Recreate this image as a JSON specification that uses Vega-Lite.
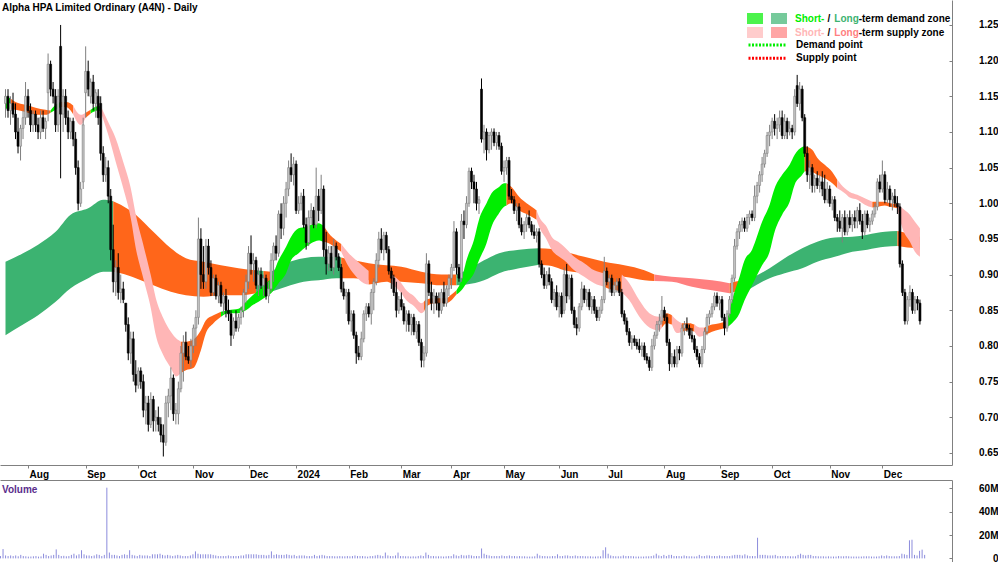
{
"$schema":"https://vega.github.io/schema/vega-lite/v6.json",
"padding":0,
"background":"#ffffff",
"spacing":0,
"config":{"view":{"stroke":null},"font":"Liberation Sans","axis":{"labelFont":"Liberation Sans","labelFontWeight":"bold","labelFontSize":10,"labelColor":"#000000","domainColor":"#808080","tickColor":"#808080","grid":false,"title":null},"legend":{"labelFont":"Liberation Sans","labelFontWeight":"bold","labelFontSize":10,"labelColor":"#000000","padding":0,"offset":0}},
"datasets":{
"px":[
{"i":0,"o":1.14,"h":1.16,"l":1.12,"c":1.15,"v":2},{"i":1,"o":1.15,"h":1.16,"l":1.12,"c":1.13,"v":8},{"i":2,"o":1.13,"h":1.15,"l":1.11,"c":1.14,"v":2.5},{"i":3,"o":1.14,"h":1.155,"l":1.12,"c":1.125,"v":2},{"i":4,"o":1.125,"h":1.14,"l":1.09,"c":1.1,"v":2.5},{"i":5,"o":1.1,"h":1.12,"l":1.07,"c":1.08,"v":2},{"i":6,"o":1.08,"h":1.11,"l":1.06,"c":1.105,"v":2.5},{"i":7,"o":1.105,"h":1.13,"l":1.09,"c":1.12,"v":1.8},{"i":8,"o":1.12,"h":1.17,"l":1.11,"c":1.15,"v":3},{"i":9,"o":1.15,"h":1.16,"l":1.12,"c":1.13,"v":2},
{"i":10,"o":1.13,"h":1.14,"l":1.1,"c":1.11,"v":1.8},{"i":11,"o":1.11,"h":1.13,"l":1.1,"c":1.125,"v":1.5},{"i":12,"o":1.125,"h":1.13,"l":1.1,"c":1.11,"v":1.6},{"i":13,"o":1.11,"h":1.12,"l":1.09,"c":1.1,"v":1.8},{"i":14,"o":1.1,"h":1.13,"l":1.09,"c":1.12,"v":2},{"i":15,"o":1.12,"h":1.13,"l":1.1,"c":1.105,"v":1.5},{"i":16,"o":1.105,"h":1.12,"l":1.09,"c":1.115,"v":1.7},{"i":17,"o":1.155,"h":1.21,"l":1.115,"c":1.195,"v":4},{"i":18,"o":1.195,"h":1.2,"l":1.15,"c":1.16,"v":3},{"i":19,"o":1.16,"h":1.17,"l":1.14,"c":1.15,"v":2},
{"i":20,"o":1.15,"h":1.16,"l":1.1,"c":1.11,"v":2.5},{"i":21,"o":1.11,"h":1.16,"l":1.1,"c":1.15,"v":3},{"i":22,"o":1.22,"h":1.25,"l":1.035,"c":1.125,"v":7.7},{"i":23,"o":1.125,"h":1.16,"l":1.1,"c":1.15,"v":3},{"i":24,"o":1.15,"h":1.16,"l":1.11,"c":1.12,"v":2},{"i":25,"o":1.12,"h":1.13,"l":1.09,"c":1.1,"v":2.2},{"i":26,"o":1.1,"h":1.12,"l":1.09,"c":1.115,"v":1.8},{"i":27,"o":1.115,"h":1.12,"l":1.08,"c":1.09,"v":2},{"i":28,"o":1.09,"h":1.1,"l":1.04,"c":1.05,"v":3},{"i":29,"o":1.05,"h":1.06,"l":0.99,"c":1.0,"v":4},
{"i":30,"o":1.0,"h":1.03,"l":0.995,"c":1.02,"v":2.5},{"i":31,"o":1.03,"h":1.12,"l":1.02,"c":1.11,"v":3.5},{"i":32,"o":1.155,"h":1.22,"l":1.12,"c":1.185,"v":7},{"i":33,"o":1.185,"h":1.2,"l":1.15,"c":1.16,"v":3.5},{"i":34,"o":1.15,"h":1.175,"l":1.14,"c":1.17,"v":2.5},{"i":35,"o":1.17,"h":1.18,"l":1.13,"c":1.14,"v":2.5},{"i":36,"o":1.14,"h":1.16,"l":1.12,"c":1.155,"v":2},{"i":37,"o":1.15,"h":1.16,"l":1.11,"c":1.12,"v":2.5},{"i":38,"o":1.14,"h":1.15,"l":1.06,"c":1.07,"v":3.5},{"i":39,"o":1.07,"h":1.08,"l":1.03,"c":1.04,"v":3},
{"i":40,"o":1.04,"h":1.065,"l":1.03,"c":1.05,"v":2},{"i":41,"o":1.05,"h":1.06,"l":1.0,"c":1.01,"v":3},{"i":42,"o":1.01,"h":1.02,"l":0.92,"c":0.935,"v":60.6},{"i":43,"o":0.935,"h":0.97,"l":0.875,"c":0.89,"v":5},{"i":44,"o":0.89,"h":0.92,"l":0.87,"c":0.91,"v":3},{"i":45,"o":0.91,"h":0.93,"l":0.865,"c":0.875,"v":3},{"i":46,"o":0.875,"h":0.9,"l":0.86,"c":0.88,"v":2.5},{"i":47,"o":0.88,"h":0.89,"l":0.86,"c":0.865,"v":2},{"i":48,"o":0.86,"h":0.86,"l":0.82,"c":0.83,"v":3},{"i":49,"o":0.83,"h":0.84,"l":0.78,"c":0.79,"v":3.5},
{"i":50,"o":0.79,"h":0.82,"l":0.775,"c":0.81,"v":3},{"i":51,"o":0.81,"h":0.82,"l":0.75,"c":0.76,"v":7},{"i":52,"o":0.76,"h":0.78,"l":0.735,"c":0.745,"v":3},{"i":53,"o":0.745,"h":0.77,"l":0.74,"c":0.765,"v":2.5},{"i":54,"o":0.765,"h":0.77,"l":0.74,"c":0.75,"v":2},{"i":55,"o":0.75,"h":0.76,"l":0.7,"c":0.71,"v":3},{"i":56,"o":0.71,"h":0.73,"l":0.69,"c":0.72,"v":2.5},{"i":57,"o":0.72,"h":0.73,"l":0.68,"c":0.69,"v":2.5},{"i":58,"o":0.69,"h":0.735,"l":0.685,"c":0.725,"v":2.5},{"i":59,"o":0.725,"h":0.73,"l":0.68,"c":0.695,"v":2},
{"i":60,"o":0.695,"h":0.71,"l":0.68,"c":0.7,"v":3.5},{"i":61,"o":0.7,"h":0.715,"l":0.68,"c":0.69,"v":3.5},{"i":62,"o":0.69,"h":0.7,"l":0.665,"c":0.675,"v":3.5},{"i":63,"o":0.675,"h":0.69,"l":0.645,"c":0.665,"v":4},{"i":64,"o":0.665,"h":0.73,"l":0.66,"c":0.72,"v":3},{"i":65,"o":0.72,"h":0.74,"l":0.7,"c":0.73,"v":2.5},{"i":66,"o":0.73,"h":0.77,"l":0.71,"c":0.755,"v":3},{"i":67,"o":0.755,"h":0.76,"l":0.695,"c":0.705,"v":2.5},{"i":68,"o":0.705,"h":0.72,"l":0.69,"c":0.71,"v":2},{"i":69,"o":0.705,"h":0.75,"l":0.69,"c":0.74,"v":2.5},
{"i":70,"o":0.74,"h":0.8,"l":0.735,"c":0.79,"v":3},{"i":71,"o":0.79,"h":0.815,"l":0.75,"c":0.805,"v":2.5},{"i":72,"o":0.805,"h":0.82,"l":0.78,"c":0.785,"v":2},{"i":73,"o":0.785,"h":0.8,"l":0.775,"c":0.78,"v":2},{"i":74,"o":0.78,"h":0.81,"l":0.77,"c":0.8,"v":2},{"i":75,"o":0.8,"h":0.83,"l":0.79,"c":0.825,"v":2.5},{"i":76,"o":0.825,"h":0.85,"l":0.8,"c":0.84,"v":3.5},{"i":77,"o":0.84,"h":0.98,"l":0.83,"c":0.95,"v":6},{"i":78,"o":0.95,"h":0.965,"l":0.88,"c":0.9,"v":4},{"i":79,"o":0.9,"h":0.94,"l":0.88,"c":0.89,"v":3.5},
{"i":80,"o":0.89,"h":0.95,"l":0.88,"c":0.94,"v":3.5},{"i":81,"o":0.94,"h":0.95,"l":0.9,"c":0.91,"v":3.5},{"i":82,"o":0.91,"h":0.92,"l":0.87,"c":0.875,"v":3.5},{"i":83,"o":0.875,"h":0.9,"l":0.87,"c":0.895,"v":3.5},{"i":84,"o":0.895,"h":0.9,"l":0.865,"c":0.87,"v":3},{"i":85,"o":0.87,"h":0.89,"l":0.86,"c":0.885,"v":2.5},{"i":86,"o":0.885,"h":0.89,"l":0.855,"c":0.86,"v":2},{"i":87,"o":0.86,"h":0.875,"l":0.845,"c":0.87,"v":2},{"i":88,"o":0.87,"h":0.88,"l":0.84,"c":0.85,"v":2},{"i":89,"o":0.85,"h":0.865,"l":0.835,"c":0.845,"v":2},
{"i":90,"o":0.845,"h":0.85,"l":0.8,"c":0.815,"v":2.5},{"i":91,"o":0.815,"h":0.84,"l":0.81,"c":0.835,"v":2},{"i":92,"o":0.835,"h":0.85,"l":0.82,"c":0.825,"v":2},{"i":93,"o":0.825,"h":0.845,"l":0.82,"c":0.84,"v":2},{"i":94,"o":0.84,"h":0.855,"l":0.83,"c":0.85,"v":2},{"i":95,"o":0.85,"h":0.88,"l":0.84,"c":0.875,"v":2.5},{"i":96,"o":0.875,"h":0.9,"l":0.86,"c":0.89,"v":2.5},{"i":97,"o":0.89,"h":0.94,"l":0.88,"c":0.93,"v":3.5},{"i":98,"o":0.93,"h":0.955,"l":0.9,"c":0.915,"v":3.5},{"i":99,"o":0.915,"h":0.93,"l":0.89,"c":0.92,"v":3.5},
{"i":100,"o":0.92,"h":0.925,"l":0.88,"c":0.885,"v":3.5},{"i":101,"o":0.885,"h":0.91,"l":0.87,"c":0.9,"v":3.5},{"i":102,"o":0.9,"h":0.91,"l":0.88,"c":0.885,"v":3},{"i":103,"o":0.885,"h":0.9,"l":0.87,"c":0.895,"v":3},{"i":104,"o":0.895,"h":0.9,"l":0.865,"c":0.87,"v":3},{"i":105,"o":0.87,"h":0.89,"l":0.86,"c":0.88,"v":2.5},{"i":106,"o":0.88,"h":0.93,"l":0.875,"c":0.92,"v":3},{"i":107,"o":0.92,"h":0.945,"l":0.89,"c":0.94,"v":6},{"i":108,"o":0.94,"h":0.955,"l":0.92,"c":0.93,"v":3},{"i":109,"o":0.93,"h":0.99,"l":0.925,"c":0.985,"v":3.5},
{"i":110,"o":0.985,"h":1.0,"l":0.95,"c":0.965,"v":3},{"i":111,"o":0.965,"h":1.01,"l":0.955,"c":1.0,"v":3},{"i":112,"o":1.0,"h":1.03,"l":0.98,"c":1.02,"v":3},{"i":113,"o":1.02,"h":1.06,"l":1.01,"c":1.05,"v":3.5},{"i":114,"o":1.05,"h":1.07,"l":1.03,"c":1.04,"v":3},{"i":115,"o":1.04,"h":1.065,"l":1.025,"c":1.055,"v":2.5},{"i":116,"o":1.055,"h":1.06,"l":0.985,"c":0.99,"v":3},{"i":117,"o":0.99,"h":1.01,"l":0.985,"c":1.0,"v":2},{"i":118,"o":1.0,"h":1.015,"l":0.99,"c":1.01,"v":2.5},{"i":119,"o":1.01,"h":1.02,"l":0.965,"c":0.97,"v":2.5},
{"i":120,"o":0.97,"h":0.98,"l":0.935,"c":0.945,"v":2.5},{"i":121,"o":0.945,"h":0.99,"l":0.94,"c":0.98,"v":2},{"i":122,"o":0.98,"h":1.0,"l":0.97,"c":0.99,"v":2},{"i":123,"o":0.99,"h":0.995,"l":0.965,"c":0.97,"v":2},{"i":124,"o":0.97,"h":1.05,"l":0.965,"c":1.01,"v":3},{"i":125,"o":1.01,"h":1.02,"l":0.975,"c":0.99,"v":2},{"i":126,"o":0.99,"h":1.04,"l":0.985,"c":1.02,"v":2.5},{"i":127,"o":1.02,"h":1.025,"l":0.925,"c":0.935,"v":3},{"i":128,"o":0.935,"h":0.96,"l":0.9,"c":0.915,"v":2.5},{"i":129,"o":0.915,"h":0.94,"l":0.905,"c":0.93,"v":2},
{"i":130,"o":0.93,"h":0.94,"l":0.905,"c":0.91,"v":2},{"i":131,"o":0.91,"h":0.95,"l":0.9,"c":0.94,"v":2},{"i":132,"o":0.94,"h":0.945,"l":0.92,"c":0.925,"v":1.8},{"i":133,"o":0.925,"h":0.93,"l":0.905,"c":0.91,"v":1.8},{"i":134,"o":0.91,"h":0.915,"l":0.875,"c":0.88,"v":2},{"i":135,"o":0.88,"h":0.89,"l":0.865,"c":0.87,"v":1.8},{"i":136,"o":0.87,"h":0.88,"l":0.845,"c":0.875,"v":1.8},{"i":137,"o":0.875,"h":0.88,"l":0.83,"c":0.835,"v":2},{"i":138,"o":0.835,"h":0.85,"l":0.82,"c":0.845,"v":1.8},{"i":139,"o":0.845,"h":0.85,"l":0.81,"c":0.815,"v":2},
{"i":140,"o":0.815,"h":0.82,"l":0.775,"c":0.79,"v":2.5},{"i":141,"o":0.79,"h":0.8,"l":0.78,"c":0.785,"v":2},{"i":142,"o":0.785,"h":0.82,"l":0.78,"c":0.81,"v":2},{"i":143,"o":0.81,"h":0.85,"l":0.805,"c":0.845,"v":2},{"i":144,"o":0.845,"h":0.86,"l":0.835,"c":0.855,"v":1.8},{"i":145,"o":0.855,"h":0.86,"l":0.84,"c":0.845,"v":1.5},{"i":146,"o":0.845,"h":0.88,"l":0.83,"c":0.875,"v":2},{"i":147,"o":0.875,"h":0.895,"l":0.85,"c":0.89,"v":2},{"i":148,"o":0.89,"h":0.93,"l":0.885,"c":0.92,"v":2.5},{"i":149,"o":0.92,"h":0.96,"l":0.91,"c":0.95,"v":3},
{"i":150,"o":0.95,"h":0.965,"l":0.93,"c":0.935,"v":2.5},{"i":151,"o":0.935,"h":0.96,"l":0.92,"c":0.955,"v":2},{"i":152,"o":0.955,"h":0.96,"l":0.93,"c":0.935,"v":5},{"i":153,"o":0.935,"h":0.94,"l":0.9,"c":0.905,"v":2.5},{"i":154,"o":0.905,"h":0.91,"l":0.88,"c":0.895,"v":2},{"i":155,"o":0.895,"h":0.9,"l":0.87,"c":0.875,"v":2},{"i":156,"o":0.875,"h":0.89,"l":0.84,"c":0.85,"v":2.5},{"i":157,"o":0.85,"h":0.87,"l":0.845,"c":0.865,"v":5},{"i":158,"o":0.865,"h":0.875,"l":0.85,"c":0.855,"v":2},{"i":159,"o":0.855,"h":0.86,"l":0.83,"c":0.835,"v":2},
{"i":160,"o":0.835,"h":0.85,"l":0.82,"c":0.845,"v":1.8},{"i":161,"o":0.845,"h":0.85,"l":0.82,"c":0.83,"v":1.8},{"i":162,"o":0.83,"h":0.845,"l":0.815,"c":0.84,"v":1.6},{"i":163,"o":0.84,"h":0.845,"l":0.815,"c":0.82,"v":1.8},{"i":164,"o":0.82,"h":0.835,"l":0.81,"c":0.83,"v":1.6},{"i":165,"o":0.83,"h":0.835,"l":0.8,"c":0.805,"v":2},{"i":166,"o":0.805,"h":0.81,"l":0.77,"c":0.78,"v":2.5},{"i":167,"o":0.78,"h":0.8,"l":0.77,"c":0.79,"v":2},{"i":168,"o":0.79,"h":0.93,"l":0.785,"c":0.915,"v":5},{"i":169,"o":0.915,"h":0.92,"l":0.87,"c":0.875,"v":3},
{"i":170,"o":0.875,"h":0.89,"l":0.85,"c":0.86,"v":2},{"i":171,"o":0.86,"h":0.88,"l":0.845,"c":0.87,"v":2},{"i":172,"o":0.87,"h":0.875,"l":0.85,"c":0.86,"v":1.8},{"i":173,"o":0.86,"h":0.875,"l":0.84,"c":0.85,"v":1.8},{"i":174,"o":0.85,"h":0.88,"l":0.845,"c":0.875,"v":1.8},{"i":175,"o":0.875,"h":0.89,"l":0.855,"c":0.86,"v":1.6},{"i":176,"o":0.86,"h":0.885,"l":0.855,"c":0.88,"v":1.8},{"i":177,"o":0.88,"h":0.9,"l":0.87,"c":0.895,"v":2},{"i":178,"o":0.895,"h":0.915,"l":0.88,"c":0.91,"v":2},{"i":179,"o":0.91,"h":0.975,"l":0.905,"c":0.96,"v":3.5},
{"i":180,"o":0.96,"h":0.965,"l":0.9,"c":0.91,"v":2.5},{"i":181,"o":0.91,"h":0.915,"l":0.89,"c":0.895,"v":2},{"i":182,"o":0.895,"h":0.985,"l":0.89,"c":0.975,"v":3},{"i":183,"o":0.975,"h":0.99,"l":0.95,"c":0.97,"v":2.5},{"i":184,"o":0.97,"h":1.01,"l":0.965,"c":1.0,"v":2.5},{"i":185,"o":1.0,"h":1.05,"l":0.995,"c":1.045,"v":3},{"i":186,"o":1.045,"h":1.05,"l":1.02,"c":1.03,"v":2.5},{"i":187,"o":1.03,"h":1.04,"l":1.0,"c":1.02,"v":2},{"i":188,"o":1.02,"h":1.03,"l":0.99,"c":1.0,"v":2},{"i":189,"o":1.0,"h":1.01,"l":0.985,"c":1.005,"v":2},
{"i":190,"o":1.16,"h":1.175,"l":1.085,"c":1.09,"v":8.5},{"i":191,"o":1.09,"h":1.11,"l":1.07,"c":1.1,"v":4},{"i":192,"o":1.1,"h":1.105,"l":1.06,"c":1.075,"v":3},{"i":193,"o":1.075,"h":1.1,"l":1.07,"c":1.095,"v":2.5},{"i":194,"o":1.095,"h":1.105,"l":1.075,"c":1.1,"v":2},{"i":195,"o":1.1,"h":1.105,"l":1.08,"c":1.085,"v":2},{"i":196,"o":1.085,"h":1.1,"l":1.075,"c":1.095,"v":2},{"i":197,"o":1.095,"h":1.1,"l":1.075,"c":1.08,"v":2},{"i":198,"o":1.08,"h":1.085,"l":1.04,"c":1.045,"v":2.5},{"i":199,"o":1.045,"h":1.06,"l":1.03,"c":1.05,"v":2},
{"i":200,"o":1.05,"h":1.065,"l":1.04,"c":1.06,"v":2},{"i":201,"o":1.06,"h":1.065,"l":1.005,"c":1.01,"v":2.5},{"i":202,"o":1.01,"h":1.02,"l":1.0,"c":1.005,"v":2},{"i":203,"o":1.005,"h":1.01,"l":0.985,"c":0.99,"v":2},{"i":204,"o":0.99,"h":1.0,"l":0.975,"c":0.995,"v":1.8},{"i":205,"o":0.995,"h":1.0,"l":0.965,"c":0.97,"v":2},{"i":206,"o":0.97,"h":0.98,"l":0.955,"c":0.96,"v":1.8},{"i":207,"o":0.96,"h":0.975,"l":0.95,"c":0.97,"v":1.8},{"i":208,"o":0.97,"h":0.985,"l":0.96,"c":0.98,"v":1.6},{"i":209,"o":0.98,"h":0.99,"l":0.965,"c":0.97,"v":1.6},
{"i":210,"o":0.97,"h":0.975,"l":0.955,"c":0.96,"v":1.6},{"i":211,"o":0.96,"h":0.97,"l":0.95,"c":0.955,"v":1.8},{"i":212,"o":0.955,"h":0.965,"l":0.945,"c":0.96,"v":4},{"i":213,"o":0.96,"h":0.965,"l":0.91,"c":0.915,"v":2.5},{"i":214,"o":0.915,"h":0.92,"l":0.895,"c":0.9,"v":2},{"i":215,"o":0.9,"h":0.91,"l":0.88,"c":0.885,"v":2},{"i":216,"o":0.885,"h":0.905,"l":0.88,"c":0.9,"v":1.8},{"i":217,"o":0.9,"h":0.91,"l":0.885,"c":0.89,"v":1.8},{"i":218,"o":0.89,"h":0.895,"l":0.86,"c":0.865,"v":2},{"i":219,"o":0.865,"h":0.88,"l":0.855,"c":0.875,"v":2},
{"i":220,"o":0.875,"h":0.885,"l":0.85,"c":0.855,"v":3.5},{"i":221,"o":0.855,"h":0.875,"l":0.84,"c":0.87,"v":2},{"i":222,"o":0.87,"h":0.875,"l":0.84,"c":0.845,"v":2},{"i":223,"o":0.85,"h":0.91,"l":0.845,"c":0.9,"v":2.5},{"i":224,"o":0.9,"h":0.915,"l":0.86,"c":0.87,"v":2.5},{"i":225,"o":0.87,"h":0.9,"l":0.865,"c":0.895,"v":2},{"i":226,"o":0.895,"h":0.9,"l":0.845,"c":0.85,"v":2},{"i":227,"o":0.85,"h":0.855,"l":0.825,"c":0.83,"v":2.5},{"i":228,"o":0.83,"h":0.84,"l":0.815,"c":0.825,"v":2},{"i":229,"o":0.825,"h":0.86,"l":0.82,"c":0.855,"v":2},
{"i":230,"o":0.855,"h":0.89,"l":0.85,"c":0.88,"v":2},{"i":231,"o":0.88,"h":0.885,"l":0.86,"c":0.865,"v":1.8},{"i":232,"o":0.865,"h":0.88,"l":0.855,"c":0.875,"v":1.8},{"i":233,"o":0.875,"h":0.88,"l":0.85,"c":0.855,"v":1.8},{"i":234,"o":0.855,"h":0.87,"l":0.845,"c":0.865,"v":1.6},{"i":235,"o":0.865,"h":0.87,"l":0.845,"c":0.85,"v":1.6},{"i":236,"o":0.85,"h":0.855,"l":0.835,"c":0.84,"v":1.8},{"i":237,"o":0.84,"h":0.855,"l":0.835,"c":0.85,"v":1.8},{"i":238,"o":0.85,"h":0.87,"l":0.845,"c":0.865,"v":7},{"i":239,"o":0.865,"h":0.925,"l":0.86,"c":0.905,"v":9.5},
{"i":240,"o":0.905,"h":0.91,"l":0.885,"c":0.89,"v":4},{"i":241,"o":0.89,"h":0.9,"l":0.875,"c":0.895,"v":2.5},{"i":242,"o":0.895,"h":0.9,"l":0.87,"c":0.875,"v":2},{"i":243,"o":0.875,"h":0.89,"l":0.87,"c":0.885,"v":1.8},{"i":244,"o":0.885,"h":0.895,"l":0.875,"c":0.89,"v":1.8},{"i":245,"o":0.89,"h":0.895,"l":0.87,"c":0.875,"v":1.8},{"i":246,"o":0.875,"h":0.88,"l":0.84,"c":0.845,"v":2.5},{"i":247,"o":0.845,"h":0.85,"l":0.83,"c":0.835,"v":2},{"i":248,"o":0.835,"h":0.84,"l":0.815,"c":0.82,"v":2},{"i":249,"o":0.82,"h":0.825,"l":0.8,"c":0.805,"v":2},
{"i":250,"o":0.805,"h":0.815,"l":0.795,"c":0.81,"v":1.8},{"i":251,"o":0.81,"h":0.815,"l":0.8,"c":0.805,"v":1.6},{"i":252,"o":0.805,"h":0.81,"l":0.795,"c":0.8,"v":1.6},{"i":253,"o":0.8,"h":0.81,"l":0.79,"c":0.795,"v":1.6},{"i":254,"o":0.795,"h":0.805,"l":0.785,"c":0.8,"v":1.6},{"i":255,"o":0.8,"h":0.805,"l":0.78,"c":0.785,"v":1.8},{"i":256,"o":0.785,"h":0.79,"l":0.775,"c":0.78,"v":1.8},{"i":257,"o":0.78,"h":0.785,"l":0.765,"c":0.77,"v":2},{"i":258,"o":0.77,"h":0.81,"l":0.765,"c":0.8,"v":2.5},{"i":259,"o":0.8,"h":0.82,"l":0.795,"c":0.815,"v":4},
{"i":260,"o":0.815,"h":0.835,"l":0.81,"c":0.83,"v":2.5},{"i":261,"o":0.83,"h":0.845,"l":0.82,"c":0.835,"v":2},{"i":262,"o":0.835,"h":0.87,"l":0.83,"c":0.85,"v":3},{"i":263,"o":0.85,"h":0.855,"l":0.835,"c":0.84,"v":2},{"i":264,"o":0.84,"h":0.845,"l":0.8,"c":0.805,"v":3},{"i":265,"o":0.805,"h":0.81,"l":0.765,"c":0.775,"v":3},{"i":266,"o":0.775,"h":0.79,"l":0.77,"c":0.785,"v":2},{"i":267,"o":0.785,"h":0.795,"l":0.77,"c":0.775,"v":2},{"i":268,"o":0.775,"h":0.8,"l":0.77,"c":0.795,"v":2},{"i":269,"o":0.795,"h":0.8,"l":0.78,"c":0.79,"v":1.8},
{"i":270,"o":0.79,"h":0.83,"l":0.785,"c":0.825,"v":2.5},{"i":271,"o":0.825,"h":0.835,"l":0.815,"c":0.83,"v":2},{"i":272,"o":0.83,"h":0.84,"l":0.82,"c":0.825,"v":1.8},{"i":273,"o":0.825,"h":0.83,"l":0.81,"c":0.815,"v":1.8},{"i":274,"o":0.815,"h":0.825,"l":0.805,"c":0.81,"v":1.6},{"i":275,"o":0.81,"h":0.815,"l":0.79,"c":0.795,"v":1.8},{"i":276,"o":0.795,"h":0.8,"l":0.78,"c":0.785,"v":3},{"i":277,"o":0.785,"h":0.79,"l":0.77,"c":0.775,"v":2},{"i":278,"o":0.775,"h":0.8,"l":0.77,"c":0.795,"v":2},{"i":279,"o":0.795,"h":0.825,"l":0.79,"c":0.82,"v":2.5},
{"i":280,"o":0.82,"h":0.845,"l":0.815,"c":0.84,"v":2.5},{"i":281,"o":0.84,"h":0.85,"l":0.83,"c":0.845,"v":2},{"i":282,"o":0.845,"h":0.86,"l":0.84,"c":0.855,"v":2},{"i":283,"o":0.855,"h":0.875,"l":0.85,"c":0.87,"v":2},{"i":284,"o":0.87,"h":0.875,"l":0.855,"c":0.86,"v":2.5},{"i":285,"o":0.86,"h":0.87,"l":0.85,"c":0.865,"v":2},{"i":286,"o":0.865,"h":0.87,"l":0.835,"c":0.84,"v":2},{"i":287,"o":0.84,"h":0.845,"l":0.815,"c":0.825,"v":2},{"i":288,"o":0.825,"h":0.85,"l":0.82,"c":0.845,"v":2},{"i":289,"o":0.845,"h":0.87,"l":0.84,"c":0.865,"v":2.5},
{"i":290,"o":0.865,"h":0.9,"l":0.86,"c":0.895,"v":3},{"i":291,"o":0.895,"h":0.95,"l":0.89,"c":0.94,"v":3},{"i":292,"o":0.94,"h":0.965,"l":0.935,"c":0.96,"v":3},{"i":293,"o":0.96,"h":0.975,"l":0.95,"c":0.97,"v":2.5},{"i":294,"o":0.97,"h":0.98,"l":0.96,"c":0.975,"v":3.5},{"i":295,"o":0.975,"h":0.98,"l":0.96,"c":0.965,"v":2.5},{"i":296,"o":0.965,"h":0.985,"l":0.96,"c":0.98,"v":2},{"i":297,"o":0.98,"h":0.99,"l":0.97,"c":0.985,"v":2},{"i":298,"o":0.985,"h":0.99,"l":0.975,"c":0.98,"v":2},{"i":299,"o":0.98,"h":1.025,"l":0.975,"c":1.01,"v":17.7},
{"i":300,"o":1.01,"h":1.03,"l":1.0,"c":1.025,"v":3},{"i":301,"o":1.025,"h":1.045,"l":1.015,"c":1.04,"v":3},{"i":302,"o":1.04,"h":1.065,"l":1.03,"c":1.055,"v":3},{"i":303,"o":1.055,"h":1.075,"l":1.05,"c":1.07,"v":2.5},{"i":304,"o":1.07,"h":1.1,"l":1.065,"c":1.095,"v":2.5},{"i":305,"o":1.095,"h":1.11,"l":1.08,"c":1.1,"v":2.5},{"i":306,"o":1.1,"h":1.12,"l":1.09,"c":1.115,"v":3},{"i":307,"o":1.115,"h":1.125,"l":1.095,"c":1.105,"v":2},{"i":308,"o":1.105,"h":1.12,"l":1.09,"c":1.11,"v":2},{"i":309,"o":1.11,"h":1.13,"l":1.1,"c":1.12,"v":2},
{"i":310,"o":1.12,"h":1.13,"l":1.09,"c":1.095,"v":2},{"i":311,"o":1.095,"h":1.125,"l":1.09,"c":1.115,"v":2},{"i":312,"o":1.115,"h":1.12,"l":1.09,"c":1.1,"v":1.8},{"i":313,"o":1.1,"h":1.115,"l":1.095,"c":1.105,"v":1.8},{"i":314,"o":1.105,"h":1.11,"l":1.09,"c":1.1,"v":1.8},{"i":315,"o":1.1,"h":1.16,"l":1.095,"c":1.15,"v":3},{"i":316,"o":1.165,"h":1.18,"l":1.135,"c":1.14,"v":4},{"i":317,"o":1.14,"h":1.17,"l":1.13,"c":1.16,"v":3},{"i":318,"o":1.16,"h":1.165,"l":1.115,"c":1.12,"v":2.5},{"i":319,"o":1.12,"h":1.125,"l":1.065,"c":1.07,"v":3},
{"i":320,"o":1.07,"h":1.08,"l":1.03,"c":1.04,"v":3},{"i":321,"o":1.04,"h":1.06,"l":1.02,"c":1.05,"v":2},{"i":322,"o":1.05,"h":1.055,"l":1.015,"c":1.025,"v":2},{"i":323,"o":1.025,"h":1.04,"l":1.015,"c":1.035,"v":1.8},{"i":324,"o":1.035,"h":1.045,"l":1.02,"c":1.025,"v":1.8},{"i":325,"o":1.025,"h":1.04,"l":1.015,"c":1.03,"v":1.8},{"i":326,"o":1.03,"h":1.045,"l":1.01,"c":1.02,"v":1.6},{"i":327,"o":1.02,"h":1.04,"l":1.0,"c":1.005,"v":1.8},{"i":328,"o":1.005,"h":1.03,"l":1.0,"c":1.02,"v":1.6},{"i":329,"o":1.02,"h":1.025,"l":0.995,"c":1.0,"v":1.6},
{"i":330,"o":1.0,"h":1.01,"l":0.99,"c":1.005,"v":1.6},{"i":331,"o":1.005,"h":1.01,"l":0.975,"c":0.98,"v":2},{"i":332,"o":0.98,"h":0.985,"l":0.96,"c":0.975,"v":1.8},{"i":333,"o":0.975,"h":0.99,"l":0.96,"c":0.965,"v":1.8},{"i":334,"o":0.965,"h":0.985,"l":0.945,"c":0.98,"v":2},{"i":335,"o":0.98,"h":0.99,"l":0.955,"c":0.96,"v":1.8},{"i":336,"o":0.96,"h":0.985,"l":0.955,"c":0.98,"v":1.6},{"i":337,"o":0.98,"h":0.99,"l":0.965,"c":0.97,"v":1.6},{"i":338,"o":0.97,"h":0.985,"l":0.96,"c":0.98,"v":1.6},{"i":339,"o":0.98,"h":0.99,"l":0.965,"c":0.975,"v":1.6},
{"i":340,"o":0.975,"h":0.995,"l":0.965,"c":0.99,"v":1.6},{"i":341,"o":0.99,"h":1.0,"l":0.97,"c":0.975,"v":1.8},{"i":342,"o":0.975,"h":0.985,"l":0.95,"c":0.96,"v":1.8},{"i":343,"o":0.96,"h":0.99,"l":0.955,"c":0.985,"v":1.8},{"i":344,"o":0.985,"h":0.99,"l":0.965,"c":0.97,"v":1.6},{"i":345,"o":0.97,"h":0.98,"l":0.96,"c":0.975,"v":1.6},{"i":346,"o":0.975,"h":0.99,"l":0.97,"c":0.985,"v":1.6},{"i":347,"o":0.985,"h":1.0,"l":0.98,"c":0.995,"v":1.8},{"i":348,"o":0.995,"h":1.035,"l":0.99,"c":1.03,"v":2.5},{"i":349,"o":1.03,"h":1.04,"l":1.015,"c":1.02,"v":2},
{"i":350,"o":1.02,"h":1.06,"l":1.015,"c":1.04,"v":2.5},{"i":351,"o":1.04,"h":1.045,"l":1.0,"c":1.005,"v":2},{"i":352,"o":1.005,"h":1.03,"l":1.0,"c":1.02,"v":1.8},{"i":353,"o":1.02,"h":1.025,"l":0.995,"c":1.005,"v":1.8},{"i":354,"o":1.005,"h":1.015,"l":0.99,"c":1.01,"v":1.8},{"i":355,"o":1.01,"h":1.02,"l":0.995,"c":1.0,"v":2},{"i":356,"o":1.0,"h":1.01,"l":0.985,"c":0.995,"v":4},{"i":357,"o":0.995,"h":1.0,"l":0.91,"c":0.915,"v":3.5},{"i":358,"o":0.915,"h":0.92,"l":0.87,"c":0.875,"v":3},{"i":359,"o":0.875,"h":0.88,"l":0.83,"c":0.835,"v":15.5},
{"i":360,"o":0.835,"h":0.87,"l":0.83,"c":0.865,"v":16},{"i":361,"o":0.865,"h":0.885,"l":0.855,"c":0.875,"v":3},{"i":362,"o":0.875,"h":0.88,"l":0.845,"c":0.85,"v":2.5},{"i":363,"o":0.85,"h":0.87,"l":0.845,"c":0.865,"v":6.5},{"i":364,"o":0.865,"h":0.87,"l":0.85,"c":0.86,"v":7.5},{"i":365,"o":0.86,"h":0.865,"l":0.83,"c":0.835,"v":3}
],
"sb":[
{"g":1,"k":"sd","i":0,"a":1.15,"b":1.133},{"g":1,"k":"sd","i":2,"a":1.147,"b":1.132},
{"g":2,"k":"o","i":2,"a":1.147,"b":1.132},{"g":2,"k":"o","i":4,"a":1.142,"b":1.131},{"g":2,"k":"o","i":8,"a":1.138,"b":1.128},{"g":2,"k":"o","i":12,"a":1.134,"b":1.124},{"g":2,"k":"o","i":16,"a":1.131,"b":1.124},{"g":2,"k":"o","i":18,"a":1.13,"b":1.127},
{"g":3,"k":"sd","i":18,"a":1.13,"b":1.127},{"g":3,"k":"sd","i":20,"a":1.138,"b":1.131},{"g":3,"k":"sd","i":22,"a":1.142,"b":1.135},
{"g":4,"k":"o","i":22,"a":1.142,"b":1.135},{"g":4,"k":"o","i":24,"a":1.142,"b":1.135},{"g":4,"k":"o","i":26,"a":1.14,"b":1.13},{"g":4,"k":"o","i":27,"a":1.137,"b":1.125},
{"g":5,"k":"ss","i":27,"a":1.137,"b":1.125},{"g":5,"k":"ss","i":30,"a":1.124,"b":1.11},{"g":5,"k":"ss","i":32,"a":1.127,"b":1.12},
{"g":6,"k":"o","i":32,"a":1.127,"b":1.12},{"g":6,"k":"o","i":34,"a":1.131,"b":1.126},
{"g":7,"k":"sd","i":34,"a":1.131,"b":1.126},{"g":7,"k":"sd","i":37,"a":1.136,"b":1.13},{"g":7,"k":"sd","i":38,"a":1.136,"b":1.128},
{"g":8,"k":"ss","i":38,"a":1.136,"b":1.128},{"g":8,"k":"ss","i":41,"a":1.114,"b":1.096},{"g":8,"k":"ss","i":44,"a":1.091,"b":1.058},{"g":8,"k":"ss","i":47,"a":1.058,"b":1.021},{"g":8,"k":"ss","i":50,"a":1.021,"b":0.979},{"g":8,"k":"ss","i":52,"a":0.984,"b":0.937},{"g":8,"k":"ss","i":55,"a":0.942,"b":0.895},{"g":8,"k":"ss","i":58,"a":0.899,"b":0.853},{"g":8,"k":"ss","i":60,"a":0.867,"b":0.815},{"g":8,"k":"ss","i":63,"a":0.839,"b":0.787},{"g":8,"k":"ss","i":66,"a":0.82,"b":0.769},{"g":8,"k":"ss","i":68,"a":0.811,"b":0.757},{"g":8,"k":"ss","i":70,"a":0.806,"b":0.762},
{"g":9,"k":"o","i":70,"a":0.806,"b":0.762},{"g":9,"k":"o","i":72,"a":0.806,"b":0.766},{"g":9,"k":"o","i":75,"a":0.809,"b":0.769},{"g":9,"k":"o","i":78,"a":0.822,"b":0.794},{"g":9,"k":"o","i":80,"a":0.836,"b":0.818},{"g":9,"k":"o","i":83,"a":0.843,"b":0.832},{"g":9,"k":"o","i":86,"a":0.848,"b":0.841},
{"g":10,"k":"sd","i":86,"a":0.848,"b":0.841},{"g":10,"k":"sd","i":89,"a":0.85,"b":0.846},{"g":10,"k":"sd","i":93,"a":0.852,"b":0.846},{"g":10,"k":"sd","i":96,"a":0.862,"b":0.85},{"g":10,"k":"sd","i":99,"a":0.872,"b":0.858},{"g":10,"k":"sd","i":101,"a":0.878,"b":0.862},{"g":10,"k":"sd","i":104,"a":0.888,"b":0.869},{"g":10,"k":"sd","i":106,"a":0.895,"b":0.874},{"g":10,"k":"sd","i":109,"a":0.92,"b":0.888},{"g":10,"k":"sd","i":112,"a":0.939,"b":0.902},{"g":10,"k":"sd","i":114,"a":0.953,"b":0.92},{"g":10,"k":"sd","i":117,"a":0.965,"b":0.93},{"g":10,"k":"sd","i":120,"a":0.967,"b":0.939},{"g":10,"k":"sd","i":122,"a":0.97,"b":0.944},{"g":10,"k":"sd","i":125,"a":0.972,"b":0.948},{"g":10,"k":"sd","i":127,"a":0.968,"b":0.946},
{"g":11,"k":"o","i":127,"a":0.968,"b":0.946},{"g":11,"k":"o","i":129,"a":0.958,"b":0.944},{"g":11,"k":"o","i":132,"a":0.948,"b":0.937},{"g":11,"k":"o","i":134,"a":0.943,"b":0.932},
{"g":12,"k":"ss","i":134,"a":0.943,"b":0.932},{"g":12,"k":"ss","i":137,"a":0.93,"b":0.911},{"g":12,"k":"ss","i":140,"a":0.92,"b":0.897},{"g":12,"k":"ss","i":143,"a":0.911,"b":0.888},{"g":12,"k":"ss","i":145,"a":0.905,"b":0.886},
{"g":13,"k":"o","i":145,"a":0.905,"b":0.886},{"g":13,"k":"o","i":148,"a":0.902,"b":0.888},{"g":13,"k":"o","i":152,"a":0.902,"b":0.89},{"g":13,"k":"o","i":154,"a":0.9,"b":0.888},
{"g":14,"k":"ss","i":154,"a":0.9,"b":0.888},{"g":14,"k":"ss","i":158,"a":0.888,"b":0.874},{"g":14,"k":"ss","i":160,"a":0.878,"b":0.864},{"g":14,"k":"ss","i":163,"a":0.87,"b":0.856},{"g":14,"k":"ss","i":166,"a":0.86,"b":0.846},{"g":14,"k":"ss","i":167,"a":0.862,"b":0.848},
{"g":15,"k":"o","i":167,"a":0.862,"b":0.848},{"g":15,"k":"o","i":168,"a":0.865,"b":0.855},{"g":15,"k":"o","i":171,"a":0.867,"b":0.86},{"g":15,"k":"o","i":174,"a":0.867,"b":0.86},{"g":15,"k":"o","i":176,"a":0.867,"b":0.86},{"g":15,"k":"o","i":178,"a":0.872,"b":0.864},{"g":15,"k":"o","i":180,"a":0.878,"b":0.872},
{"g":16,"k":"sd","i":180,"a":0.878,"b":0.872},{"g":16,"k":"sd","i":182,"a":0.892,"b":0.878},{"g":16,"k":"sd","i":184,"a":0.92,"b":0.888},{"g":16,"k":"sd","i":187,"a":0.949,"b":0.902},{"g":16,"k":"sd","i":189,"a":0.977,"b":0.92},{"g":16,"k":"sd","i":192,"a":1.0,"b":0.944},{"g":16,"k":"sd","i":194,"a":1.014,"b":0.967},{"g":16,"k":"sd","i":197,"a":1.023,"b":0.986},{"g":16,"k":"sd","i":199,"a":1.028,"b":0.995},{"g":16,"k":"sd","i":200,"a":1.028,"b":0.997},
{"g":17,"k":"o","i":200,"a":1.028,"b":0.997},{"g":17,"k":"o","i":202,"a":1.023,"b":1.0},{"g":17,"k":"o","i":205,"a":1.009,"b":0.99},{"g":17,"k":"o","i":208,"a":1.0,"b":0.985},{"g":17,"k":"o","i":210,"a":0.995,"b":0.981},{"g":17,"k":"o","i":212,"a":0.99,"b":0.977},
{"g":18,"k":"ss","i":212,"a":0.99,"b":0.977},{"g":18,"k":"ss","i":213,"a":0.981,"b":0.967},{"g":18,"k":"ss","i":216,"a":0.967,"b":0.949},{"g":18,"k":"ss","i":218,"a":0.953,"b":0.935},{"g":18,"k":"ss","i":221,"a":0.945,"b":0.925},{"g":18,"k":"ss","i":223,"a":0.939,"b":0.92},{"g":18,"k":"ss","i":227,"a":0.925,"b":0.906},{"g":18,"k":"ss","i":231,"a":0.916,"b":0.897},{"g":18,"k":"ss","i":235,"a":0.906,"b":0.888},{"g":18,"k":"ss","i":239,"a":0.902,"b":0.883},
{"g":19,"k":"o","i":239,"a":0.902,"b":0.883},{"g":19,"k":"o","i":241,"a":0.902,"b":0.88},{"g":19,"k":"o","i":244,"a":0.902,"b":0.878},{"g":19,"k":"o","i":246,"a":0.9,"b":0.875},
{"g":20,"k":"ss","i":246,"a":0.9,"b":0.875},{"g":20,"k":"ss","i":249,"a":0.888,"b":0.864},{"g":20,"k":"ss","i":253,"a":0.864,"b":0.841},{"g":20,"k":"ss","i":257,"a":0.846,"b":0.826},{"g":20,"k":"ss","i":261,"a":0.841,"b":0.822},{"g":20,"k":"ss","i":262,"a":0.842,"b":0.826},
{"g":21,"k":"o","i":262,"a":0.842,"b":0.826},{"g":21,"k":"o","i":264,"a":0.846,"b":0.832},{"g":21,"k":"o","i":266,"a":0.843,"b":0.83},
{"g":22,"k":"ss","i":266,"a":0.843,"b":0.83},{"g":22,"k":"ss","i":268,"a":0.836,"b":0.818},{"g":22,"k":"ss","i":270,"a":0.832,"b":0.82},
{"g":23,"k":"o","i":270,"a":0.832,"b":0.82},{"g":23,"k":"o","i":273,"a":0.832,"b":0.822},{"g":23,"k":"o","i":275,"a":0.83,"b":0.82},
{"g":24,"k":"ss","i":275,"a":0.83,"b":0.82},{"g":24,"k":"ss","i":277,"a":0.826,"b":0.813},{"g":24,"k":"ss","i":279,"a":0.826,"b":0.815},
{"g":25,"k":"o","i":279,"a":0.826,"b":0.815},{"g":25,"k":"o","i":282,"a":0.83,"b":0.82},{"g":25,"k":"o","i":285,"a":0.832,"b":0.823},{"g":25,"k":"o","i":288,"a":0.835,"b":0.826},
{"g":26,"k":"sd","i":288,"a":0.835,"b":0.826},{"g":26,"k":"sd","i":290,"a":0.864,"b":0.832},{"g":26,"k":"sd","i":293,"a":0.897,"b":0.846},{"g":26,"k":"sd","i":295,"a":0.92,"b":0.864},{"g":26,"k":"sd","i":298,"a":0.935,"b":0.885},{"g":26,"k":"sd","i":302,"a":0.974,"b":0.913},{"g":26,"k":"sd","i":305,"a":0.998,"b":0.932},{"g":26,"k":"sd","i":307,"a":1.021,"b":0.96},{"g":26,"k":"sd","i":310,"a":1.04,"b":0.984},{"g":26,"k":"sd","i":313,"a":1.054,"b":1.002},{"g":26,"k":"sd","i":315,"a":1.068,"b":1.026},{"g":26,"k":"sd","i":318,"a":1.079,"b":1.04},{"g":26,"k":"sd","i":319,"a":1.08,"b":1.045},
{"g":27,"k":"o","i":319,"a":1.08,"b":1.045},{"g":27,"k":"o","i":322,"a":1.075,"b":1.044},{"g":27,"k":"o","i":324,"a":1.064,"b":1.04},{"g":27,"k":"o","i":327,"a":1.054,"b":1.035},{"g":27,"k":"o","i":330,"a":1.044,"b":1.028},{"g":27,"k":"o","i":332,"a":1.033,"b":1.021},
{"g":28,"k":"ss","i":332,"a":1.033,"b":1.021},{"g":28,"k":"ss","i":335,"a":1.021,"b":1.014},{"g":28,"k":"ss","i":337,"a":1.016,"b":1.008},{"g":28,"k":"ss","i":340,"a":1.012,"b":1.005},{"g":28,"k":"ss","i":343,"a":1.007,"b":0.998},{"g":28,"k":"ss","i":346,"a":1.002,"b":0.994},
{"g":29,"k":"o","i":346,"a":1.002,"b":0.994},{"g":29,"k":"o","i":348,"a":1.002,"b":0.995},{"g":29,"k":"o","i":351,"a":1.002,"b":0.997},{"g":29,"k":"o","i":353,"a":1.0,"b":0.995},{"g":29,"k":"o","i":356,"a":0.999,"b":0.993},
{"g":30,"k":"ss","i":356,"a":0.999,"b":0.993},{"g":30,"k":"ss","i":358,"a":0.993,"b":0.965},{"g":30,"k":"ss","i":361,"a":0.984,"b":0.946},{"g":30,"k":"ss","i":363,"a":0.974,"b":0.932},{"g":30,"k":"ss","i":365,"a":0.965,"b":0.925}
],
"lb":[
{"g":101,"k":"ld","i":0,"a":0.918,"b":0.815},{"g":101,"k":"ld","i":7,"a":0.93,"b":0.83},{"g":101,"k":"ld","i":13,"a":0.942,"b":0.843},{"g":101,"k":"ld","i":20,"a":0.96,"b":0.862},{"g":101,"k":"ld","i":26,"a":0.984,"b":0.881},{"g":101,"k":"ld","i":33,"a":0.993,"b":0.895},{"g":101,"k":"ld","i":39,"a":1.005,"b":0.904},{"g":101,"k":"ld","i":43,"a":1.003,"b":0.904},
{"g":102,"k":"o","i":43,"a":1.003,"b":0.904},{"g":102,"k":"o","i":46,"a":0.998,"b":0.902},{"g":102,"k":"o","i":52,"a":0.984,"b":0.895},{"g":102,"k":"o","i":59,"a":0.96,"b":0.885},{"g":102,"k":"o","i":66,"a":0.937,"b":0.876},{"g":102,"k":"o","i":72,"a":0.923,"b":0.871},{"g":102,"k":"o","i":79,"a":0.918,"b":0.869},{"g":102,"k":"o","i":86,"a":0.913,"b":0.871},{"g":102,"k":"o","i":93,"a":0.909,"b":0.871},{"g":102,"k":"o","i":100,"a":0.906,"b":0.874},
{"g":103,"k":"ld","i":100,"a":0.906,"b":0.874},{"g":103,"k":"ld","i":103,"a":0.905,"b":0.875},
{"g":104,"k":"o","i":103,"a":0.905,"b":0.875},{"g":104,"k":"o","i":106,"a":0.904,"b":0.876},
{"g":105,"k":"ld","i":106,"a":0.904,"b":0.876},{"g":105,"k":"ld","i":112,"a":0.916,"b":0.883},{"g":105,"k":"ld","i":119,"a":0.923,"b":0.89},{"g":105,"k":"ld","i":125,"a":0.925,"b":0.892},{"g":105,"k":"ld","i":132,"a":0.925,"b":0.895},{"g":105,"k":"ld","i":134,"a":0.924,"b":0.895},
{"g":106,"k":"o","i":134,"a":0.924,"b":0.895},{"g":106,"k":"o","i":139,"a":0.92,"b":0.895},{"g":106,"k":"o","i":145,"a":0.916,"b":0.892},{"g":106,"k":"o","i":152,"a":0.913,"b":0.892},{"g":106,"k":"o","i":158,"a":0.911,"b":0.89},{"g":106,"k":"o","i":166,"a":0.904,"b":0.888},{"g":106,"k":"o","i":174,"a":0.9,"b":0.885},{"g":106,"k":"o","i":180,"a":0.9,"b":0.885},
{"g":107,"k":"ld","i":180,"a":0.9,"b":0.885},{"g":107,"k":"ld","i":184,"a":0.906,"b":0.886},{"g":107,"k":"ld","i":191,"a":0.92,"b":0.892},{"g":107,"k":"ld","i":197,"a":0.93,"b":0.902},{"g":107,"k":"ld","i":205,"a":0.935,"b":0.909},{"g":107,"k":"ld","i":213,"a":0.937,"b":0.914},
{"g":108,"k":"o","i":213,"a":0.937,"b":0.914},{"g":108,"k":"o","i":218,"a":0.936,"b":0.912},{"g":108,"k":"o","i":223,"a":0.932,"b":0.906},{"g":108,"k":"o","i":231,"a":0.925,"b":0.902},{"g":108,"k":"o","i":239,"a":0.918,"b":0.9},{"g":108,"k":"o","i":247,"a":0.913,"b":0.897},{"g":108,"k":"o","i":255,"a":0.906,"b":0.892},{"g":108,"k":"o","i":259,"a":0.9,"b":0.891},
{"g":109,"k":"ls","i":259,"a":0.9,"b":0.891},{"g":109,"k":"ls","i":266,"a":0.897,"b":0.89},{"g":109,"k":"ls","i":274,"a":0.895,"b":0.883},{"g":109,"k":"ls","i":282,"a":0.892,"b":0.878},{"g":109,"k":"ls","i":289,"a":0.888,"b":0.874},
{"g":110,"k":"o","i":289,"a":0.888,"b":0.874},{"g":110,"k":"o","i":294,"a":0.892,"b":0.878},{"g":110,"k":"o","i":297,"a":0.893,"b":0.88},
{"g":111,"k":"ld","i":297,"a":0.893,"b":0.88},{"g":111,"k":"ld","i":305,"a":0.909,"b":0.895},{"g":111,"k":"ld","i":311,"a":0.923,"b":0.902},{"g":111,"k":"ld","i":318,"a":0.937,"b":0.909},{"g":111,"k":"ld","i":324,"a":0.946,"b":0.918},{"g":111,"k":"ld","i":331,"a":0.952,"b":0.925},{"g":111,"k":"ld","i":338,"a":0.953,"b":0.932},{"g":111,"k":"ld","i":344,"a":0.956,"b":0.935},{"g":111,"k":"ld","i":351,"a":0.96,"b":0.939},{"g":111,"k":"ld","i":356,"a":0.961,"b":0.94},
{"g":112,"k":"o","i":356,"a":0.961,"b":0.94},{"g":112,"k":"o","i":360,"a":0.958,"b":0.938},{"g":112,"k":"o","i":363,"a":0.955,"b":0.937},{"g":112,"k":"o","i":365,"a":0.953,"b":0.935}
],
"lg":[{"k":"d"},{"k":"s"}],
"lp":[{"k":"Demand point"},{"k":"Supply point"}]
},
"vconcat":[
{
"width":952,"height":465,
"title":{"text":"Alpha HPA Limited Ordinary (A4N) - Daily","anchor":"start","frame":"group","offset":-13,"fontSize":10,"fontWeight":"bold","font":"Liberation Sans","color":"#000000","dx":2},
"resolve":{"scale":{"fill":"independent","stroke":"independent"},"legend":{"fill":"independent","stroke":"independent"}},
"encoding":{"x":{"field":"i","type":"quantitative","scale":{"domain":[-0.2,375.8],"nice":false,"zero":false},"axis":{"orient":"bottom","values":[9,32,53,75,97,116,137,158,178,199,221,240,263,285,306,329,350],"labelExpr":"['Aug','Sep','Oct','Nov','Dec','2024','Feb','Mar','Apr','May','Jun','Jul','Aug','Sep','Oct','Nov','Dec'][indexof([9,32,53,75,97,116,137,158,178,199,221,240,263,285,306,329,350],datum.value)]","labelAlign":"left","labelOffset":1,"labelPadding":1,"tickSize":3,"labelBaseline":"top","labelFlush":false,"labelOverlap":false,"minExtent":15,"maxExtent":15,"title":null}}},
"layer":[
{"data":{"name":"lb"},"mark":{"type":"area","interpolate":"monotone"},"encoding":{
"y":{"field":"a","type":"quantitative","scale":{"domain":[0.6331,1.285],"nice":false,"zero":false},"axis":{"orient":"right","values":[0.65,0.7,0.75,0.8,0.85,0.9,0.95,1.0,1.05,1.1,1.15,1.2,1.25],"format":".2f","labelAlign":"right","labelPadding":49,"tickSize":-3,"labelFlush":false,"labelOverlap":false,"title":null}},
"y2":{"field":"b"},
"fill":{"field":"k","type":"nominal","scale":{"domain":["sd","ss","o","ld","ls"],"range":["#00ee00","#ffb6b6","#ff661a","#3cb371","#ff7f7f"]},"legend":null},
"detail":{"field":"g","type":"nominal"}}},
{"data":{"name":"sb"},"mark":{"type":"area","interpolate":"monotone"},"encoding":{
"y":{"field":"a","type":"quantitative","scale":{"domain":[0.6331,1.285],"nice":false,"zero":false},"axis":{"orient":"right","values":[0.65,0.7,0.75,0.8,0.85,0.9,0.95,1.0,1.05,1.1,1.15,1.2,1.25],"format":".2f","labelAlign":"right","labelPadding":49,"tickSize":-3,"labelFlush":false,"labelOverlap":false,"title":null}},
"y2":{"field":"b"},
"fill":{"field":"k","type":"nominal","scale":{"domain":["sd","ss","o","ld","ls"],"range":["#00ee00","#ffb6b6","#ff661a","#3cb371","#ff7f7f"]},"legend":null},
"detail":{"field":"g","type":"nominal"}}},
{"data":{"name":"px"},"mark":{"type":"rule","strokeWidth":1},"encoding":{
"y":{"field":"l","type":"quantitative","scale":{"domain":[0.6331,1.285],"nice":false,"zero":false},"axis":{"orient":"right","values":[0.65,0.7,0.75,0.8,0.85,0.9,0.95,1.0,1.05,1.1,1.15,1.2,1.25],"format":".2f","labelAlign":"right","labelPadding":49,"tickSize":-3,"labelFlush":false,"labelOverlap":false,"title":null}},
"y2":{"field":"h"},
"stroke":{"condition":{"test":"datum.c<datum.o","value":"#000000"},"value":"#7f7f7f"}}},
{"data":{"name":"px"},"mark":{"type":"bar","width":2,"strokeWidth":0.6},"encoding":{
"y":{"field":"o","type":"quantitative","scale":{"domain":[0.6331,1.285],"nice":false,"zero":false},"axis":{"orient":"right","values":[0.65,0.7,0.75,0.8,0.85,0.9,0.95,1.0,1.05,1.1,1.15,1.2,1.25],"format":".2f","labelAlign":"right","labelPadding":49,"tickSize":-3,"labelFlush":false,"labelOverlap":false,"title":null}},
"y2":{"field":"c"},
"fill":{"condition":{"test":"datum.c<datum.o","value":"#000000"},"value":"#c4c4c4"},
"stroke":{"condition":{"test":"datum.c<datum.o","value":"#000000"},"value":"#7f7f7f"}}},
{"data":{"name":"lg"},"transform":[{"filter":"false"}],"mark":{"type":"point","filled":true},"encoding":{"fill":{"field":"k","type":"nominal","scale":{"domain":["d","s"],"range":["#00ee00","#ffb6b6"]},"legend":{"orient":"none","legendX":747,"legendY":13,"title":null,"symbolType":"M-1,-0.6875H1V0.6875H-1Z","symbolSize":256,"symbolStrokeWidth":0,"clipHeight":11,"rowPadding":3,"labelOffset":32,"labelExpr":"'Short-'","labelColor":{"expr":"datum.value=='d'?'#00ee00':'#ffb6b6'"}}}}},
{"data":{"name":"lg"},"transform":[{"filter":"false"}],"mark":{"type":"point","filled":true},"encoding":{"fill":{"field":"k","type":"nominal","scale":{"domain":["d","s"],"range":["#3cb371","#ff7f7f"]},"legend":{"orient":"none","legendX":771,"legendY":13,"title":null,"symbolType":"M-1,-0.6875H1V0.6875H-1Z","symbolSize":256,"symbolStrokeWidth":0,"clipHeight":11,"rowPadding":3,"labelOffset":40.5,"labelExpr":"'/'"}}}},
{"data":{"name":"lg"},"transform":[{"filter":"false"}],"mark":{"type":"point","filled":true},"encoding":{"fill":{"field":"k","type":"nominal","scale":{"domain":["d","s"],"range":["#ffffff","#fffffe"]},"legend":{"orient":"none","legendX":747,"legendY":13,"title":null,"symbolSize":1,"symbolOpacity":0,"symbolStrokeWidth":0,"clipHeight":11,"rowPadding":3,"labelOffset":77.3,"labelExpr":"'Long'","labelColor":{"expr":"datum.value=='d'?'#3cb371':'#ff7f7f'"}}}}},
{"data":{"name":"lg"},"transform":[{"filter":"false"}],"mark":{"type":"point","filled":true},"encoding":{"fill":{"field":"k","type":"nominal","scale":{"domain":["d","s"],"range":["#fffffd","#fffffc"]},"legend":{"orient":"none","legendX":747,"legendY":13,"title":null,"symbolSize":1,"symbolOpacity":0,"symbolStrokeWidth":0,"clipHeight":11,"rowPadding":3,"labelOffset":101.7,"labelExpr":"datum.value=='d'?'-term demand zone':'-term supply zone'"}}}},
{"data":{"name":"lp"},"transform":[{"filter":"false"}],"mark":{"type":"rule"},"encoding":{"stroke":{"field":"k","type":"nominal","scale":{"domain":["Demand point","Supply point"],"range":["#00ee00","#ff0000"]},"legend":{"orient":"none","legendX":747,"legendY":40,"title":null,"symbolType":"stroke","symbolSize":1369,"symbolStrokeWidth":3,"symbolDash":[2,1.5],"clipHeight":10,"rowPadding":3.3,"labelOffset":9}}}}
]
},
{
"width":952,"height":82,
"title":{"text":"Volume","anchor":"start","frame":"group","offset":-15,"fontSize":10,"fontWeight":"bold","font":"Liberation Sans","color":"#5a2d8c","dx":2},
"data":{"name":"px"},
"mark":{"type":"rule","strokeWidth":1,"color":"#8c8cdc"},
"encoding":{
"x":{"field":"i","type":"quantitative","scale":{"domain":[-0.2,375.8],"nice":false,"zero":false},"axis":{"orient":"top","labels":false,"ticks":false,"domain":true,"title":null,"minExtent":0,"maxExtent":0}},
"y":{"field":"v","type":"quantitative","scale":{"domain":[-3.1,67.2],"nice":false,"zero":false},"axis":{"orient":"right","values":[0,20,40,60],"labelExpr":"datum.value==0?'0':datum.value+'M'","labelAlign":"right","labelPadding":49,"tickSize":-3,"labelFlush":false,"labelOverlap":false,"title":null}},
"y2":{"datum":0}
}
}
]
}
